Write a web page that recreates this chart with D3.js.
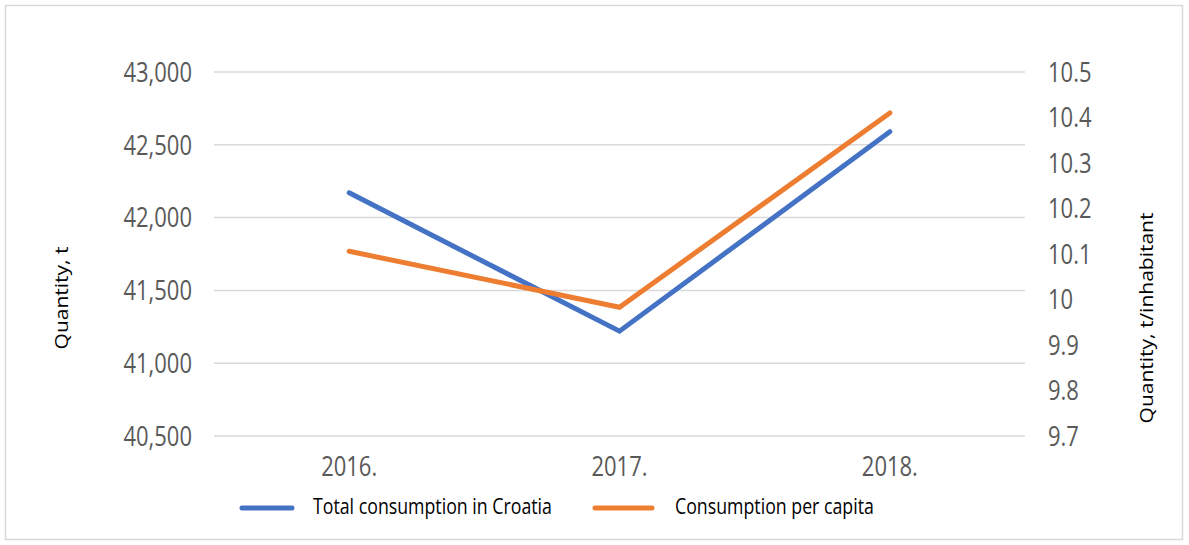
<!DOCTYPE html>
<html><head><meta charset="utf-8">
<script src="https://cdn.jsdelivr.net/npm/d3@7"></script>
<style>body{margin:0;background:#fff}svg{display:block}</style>
</head><body><svg id="c" width="1189" height="545"></svg>
<script>
const categories = ["2016.", "2017.", "2018."];
const totalConsumption = [42170, 41220, 42590];
const perCapita = [10.106, 9.983, 10.41];
const leftTicks = [40500, 41000, 41500, 42000, 42500, 43000];
const rightTicks = [9.7, 9.8, 9.9, 10, 10.1, 10.2, 10.3, 10.4, 10.5];
const seriesNames = ["Total consumption in Croatia", "Consumption per capita"];
const colors = ["#4472C4", "#ED7D31"];

const svg = d3.select("#c");
const font = "'Open Sans', 'Noto Sans', sans-serif";
const S = 1.2; // vertical stretch of glyphs in the reference
svg.append("rect").attr("x",5.5).attr("y",5.5).attr("width",1177).attr("height",534)
  .attr("fill","#fff").attr("stroke","#d9d9d9").attr("stroke-width",1.5);

const L = 214, R = 1025, T = 72, B = 436;
const x = d3.scaleBand().domain(categories).range([L, R]);
const yL = d3.scaleLinear().domain([40500, 43000]).range([B, T]);
const yR = d3.scaleLinear().domain([9.7, 10.5]).range([B, T]);

// gridlines
svg.append("g").selectAll("line").data(leftTicks).join("line")
  .attr("x1", L).attr("x2", R).attr("y1", d=>yL(d)).attr("y2", d=>yL(d))
  .attr("stroke","#d9d9d9").attr("stroke-width",1.5);

function styleTicks(g){
  g.select(".domain").remove();
  g.selectAll(".tick text").attr("font-family",font).attr("font-size",22).attr("fill","#595959");
}
// left axis
const gl = svg.append("g").attr("transform",`translate(${L},0)`)
  .call(d3.axisLeft(yL).tickValues(leftTicks).tickFormat(d3.format(",")).tickSize(0).tickPadding(22));
styleTicks(gl);
gl.selectAll(".tick text").attr("dy","0.35em").attr("transform",`scale(1,${S})`).attr("y", 0);

// right axis
const gr = svg.append("g").attr("transform",`translate(${R},0)`)
  .call(d3.axisRight(yR).tickValues(rightTicks).tickFormat(d=>String(+d.toFixed(1))).tickSize(0).tickPadding(23));
styleTicks(gr);
gr.selectAll(".tick text").attr("dy","0.35em").attr("transform",`scale(1,${S})`).attr("y",0);

// x axis
const gx = svg.append("g").attr("transform",`translate(0,${B})`)
  .call(d3.axisBottom(x).tickSize(0));
styleTicks(gx);
gx.selectAll(".tick text").attr("dy",null).attr("y",0)
  .attr("transform",`translate(0,40) scale(1,${S})`);

// lines
const cx = d => x(d) + x.bandwidth()/2;
const lineL = d3.line().x((d,i)=>cx(categories[i])).y(d=>yL(d));
const lineR = d3.line().x((d,i)=>cx(categories[i])).y(d=>yR(d));
svg.append("path").attr("d", lineL(totalConsumption)).attr("fill","none")
  .attr("stroke",colors[0]).attr("stroke-width",5).attr("stroke-linecap","round");
svg.append("path").attr("d", lineR(perCapita)).attr("fill","none")
  .attr("stroke",colors[1]).attr("stroke-width",5).attr("stroke-linecap","round");

// axis titles
svg.append("text").attr("transform",`translate(68,298) rotate(-90) scale(${S},1)`).attr("text-anchor","middle")
  .attr("font-family",font).attr("font-size",17.5).attr("fill","#000").text("Quantity, t");
svg.append("text").attr("transform",`translate(1153,318) rotate(-90) scale(${S},1)`).attr("text-anchor","middle")
  .attr("font-family",font).attr("font-size",17.5).attr("fill","#000").text("Quantity, t/inhabitant");

// legend
const legLine = [[242, 292], [595, 652]];
const legText = [313, 675];
const leg = svg.append("g");
seriesNames.forEach((n,i)=>{
  leg.append("line").attr("x1",legLine[i][0]).attr("x2",legLine[i][1]).attr("y1",508).attr("y2",508)
    .attr("stroke",colors[i]).attr("stroke-width",5).attr("stroke-linecap","round");
  leg.append("text").attr("transform",`translate(${legText[i]},514) scale(1,${S})`)
    .attr("font-family",font).attr("font-size",17.75).attr("fill","#000").text(n);
});
</script></body></html>
